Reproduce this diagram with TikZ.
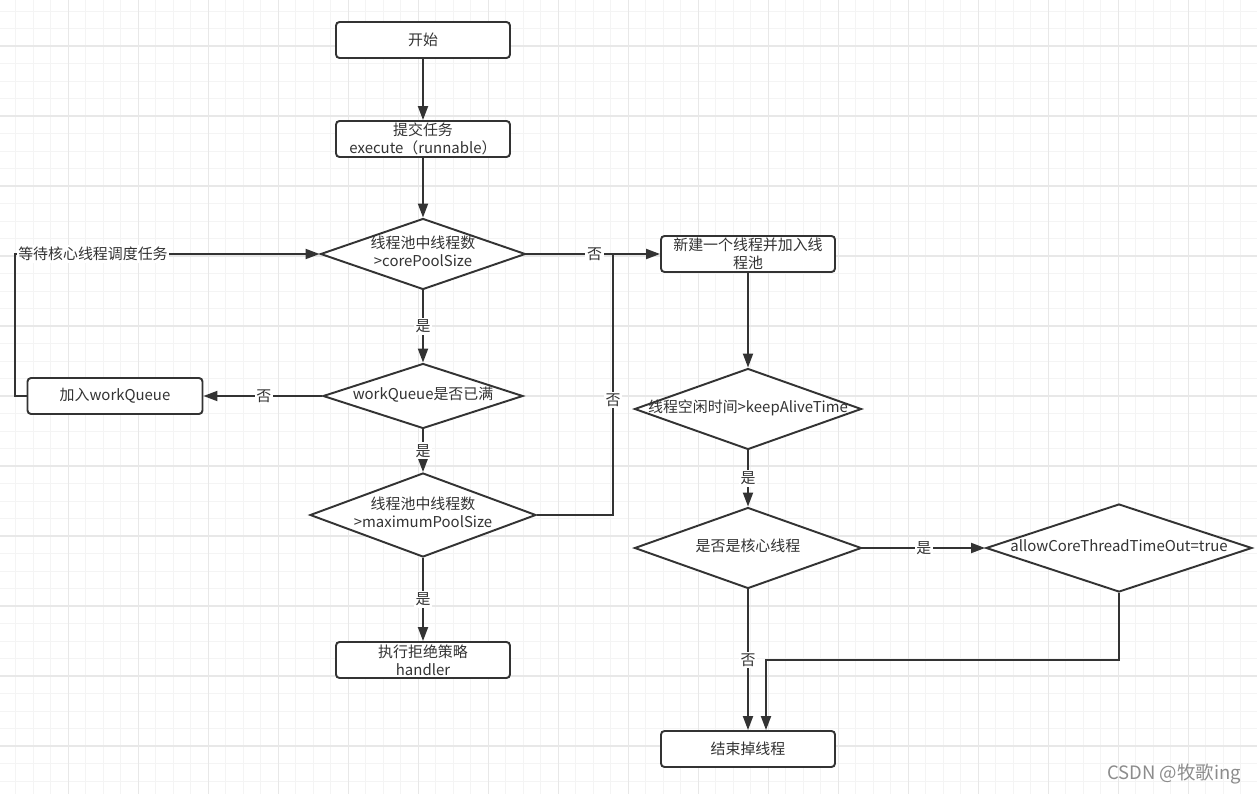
\documentclass[tikz,border=0pt]{standalone}
\usepackage{fontspec}
\setmainfont{Noto Sans CJK SC}
\usepackage{tikz}
\usetikzlibrary{positioning, shapes.geometric, arrows.meta}
\definecolor{ink}{HTML}{333333}
\definecolor{gridminor}{HTML}{F4F4F4}
\definecolor{gridmajor}{HTML}{E8E8E8}
\newcommand{\dlab}[1]{\makebox[0pt]{\begin{tabular}{@{}c@{}}#1\end{tabular}}}

\begin{document}
\begin{tikzpicture}[
  x=0.02cm, y=-0.02cm,
  every node/.style={font=\fontsize{8.5}{10.2}\selectfont, text=ink},
  box/.style={rectangle, rounded corners=2pt, draw=ink, line width=1.1pt, fill=white,
    minimum width=3.48cm, minimum height=0.72cm, align=center, inner sep=1pt},
  dia/.style={diamond, draw=ink, line width=1.1pt, fill=white, inner sep=0pt, aspect=2.5},
  arr/.style={draw=ink, line width=1.1pt, -{Triangle[length=0.28cm, width=0.2cm]}},
  conn/.style={draw=ink, line width=1.1pt},
  lbl/.style={fill=white, inner sep=1pt}
]
\useasboundingbox (0,0) rectangle (1257,794);
\fill[white] (0,0) rectangle (1257,794);
\foreach \i in {1,...,71}
  \draw[gridminor, line width=0.5pt] (-1.7+17.5*\i,0) -- (-1.7+17.5*\i,794);
\foreach \j in {1,...,45}
  \draw[gridminor, line width=0.5pt] (0,-6.5+17.5*\j) -- (1257,-6.5+17.5*\j);
\foreach \k in {1,...,17}
  \draw[gridmajor, line width=0.6pt] (-1.7+70*\k,0) -- (-1.7+70*\k,794);
\foreach \k in {0,...,10}
  \draw[gridmajor, line width=0.6pt] (0,46+70*\k) -- (1257,46+70*\k);

\node[box] (start) at (423,40) {开始};
\node[box] (submit) at (423,139) {提交任务\\execute（runnable）};
\node[dia, minimum width=4.1cm, minimum height=1.42cm] (core) at (423,254)
  {\dlab{线程池中线程数\\>corePoolSize}};
\node[dia, minimum width=4.0cm, minimum height=1.3cm] (full) at (423,396)
  {\dlab{workQueue是否已满}};
\node[box, minimum width=3.5cm] (queue) at (115,396) {加入workQueue};
\node[dia, minimum width=4.52cm, minimum height=1.68cm] (max) at (423,515)
  {\dlab{线程池中线程数\\>maximumPoolSize}};
\node[box] (reject) at (423,660) {执行拒绝策略\\handler};
\node[box] (newthr) at (748,254) {新建一个线程并加入线\\程池};
\node[dia, minimum width=4.54cm, minimum height=1.62cm] (idle) at (748,409)
  {\dlab{线程空闲时间>keepAliveTime}};
\node[dia, minimum width=4.54cm, minimum height=1.62cm] (iscore) at (748,548)
  {\dlab{是否是核心线程}};
\node[dia, minimum width=5.32cm, minimum height=1.76cm] (allow) at (1119,548)
  {\dlab{allowCoreThreadTimeOut=true}};
\node[box] (stop) at (748,749) {结束掉线程};
\node[text=black!45, font=\fontsize{10.5}{12}\selectfont] (mark) at (1174,774) {CSDN @牧歌ing};

\coordinate (qturn) at (15,396);
\coordinate (join) at (613,254);
\coordinate (elbow) at (766,660);

\draw[arr] (start) -- (submit);
\draw[arr] (submit) -- (core);
\draw[arr] (core.east) -- (newthr.west) node[lbl, pos=0.51] {否};
\draw[arr] (core.south) -- (full.north) node[lbl, midway] {是};
\draw[arr] (full.west) -- (queue.east) node[lbl, pos=0.49] {否};
\draw[arr] (queue.west) -- (qturn) |- (core.west) node[lbl, pos=0.628] {等待核心线程调度任务};
\draw[arr] (full.south) -- (max.north) node[lbl, midway] {是};
\draw[arr] (max.south) -- (reject.north) node[lbl, midway] {是};
\draw[conn] (max.east) -| (join) node[lbl, pos=0.72] {否};
\draw[arr] (newthr.south) -- (idle.north);
\draw[arr] (idle.south) -- (iscore.north) node[lbl, midway] {是};
\draw[arr] (iscore.east) -- (allow.west) node[lbl, midway] {是};
\draw[arr] (iscore.south) -- (stop.north) node[lbl, midway] {否};
\draw[arr] (allow.south) |- (elbow) -- (elbow |- stop.north);
\end{tikzpicture}
\end{document}
